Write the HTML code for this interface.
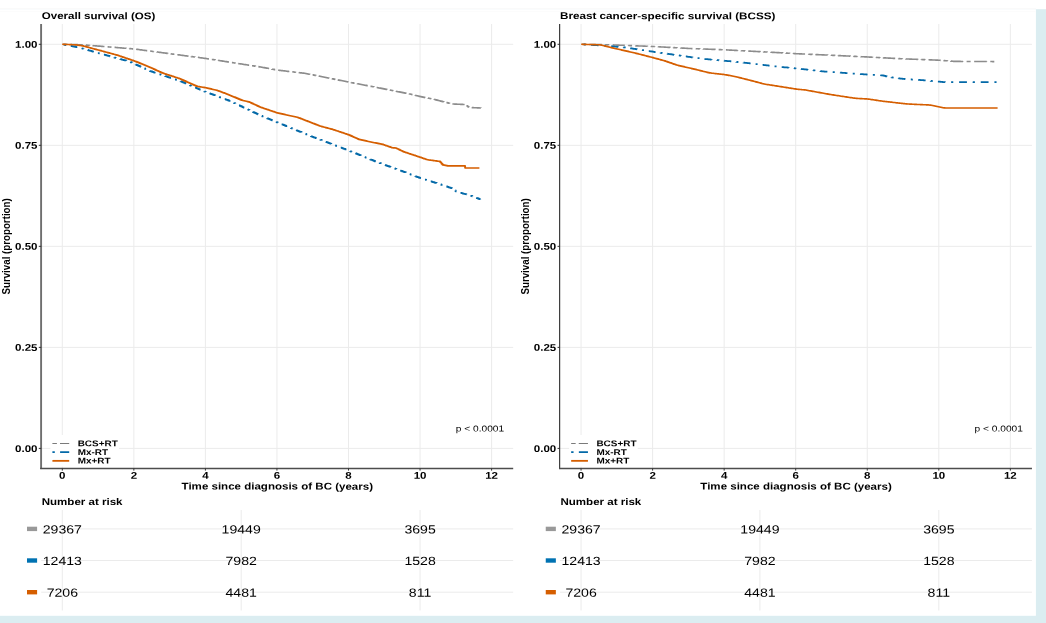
<!DOCTYPE html>
<html lang="en">
<head>
<meta charset="utf-8">
<title>Kaplan-Meier survival: OS and BCSS</title>
<style>
html,body{margin:0;padding:0;background:#fff;}
body{width:1046px;height:623px;overflow:hidden;}
svg{display:block;will-change:transform;}
text{font-family:"Liberation Sans",sans-serif;}
</style>
</head>
<body>
<svg width="1046" height="623" viewBox="0 0 1046 623" font-family="'Liberation Sans', sans-serif">
<rect width="1046" height="623" fill="#fff"/>
<rect x="0" y="9.2" width="1046" height="613.8" fill="#dbedf1"/>
<rect x="0" y="9.2" width="1035.9" height="606.6" fill="#fff"/>
<line x1="0" x2="1035.9" y1="8.5" y2="8.5" stroke="#fafafa" stroke-width="1"/>
<line x1="0" x2="1035.9" y1="11.6" y2="11.6" stroke="#fcfcfc" stroke-width="1"/>
<line x1="62.30" x2="62.30" y1="24.0" y2="468.4" stroke="#ebebeb" stroke-width="1"/>
<line x1="133.85" x2="133.85" y1="24.0" y2="468.4" stroke="#ebebeb" stroke-width="1"/>
<line x1="205.40" x2="205.40" y1="24.0" y2="468.4" stroke="#ebebeb" stroke-width="1"/>
<line x1="276.95" x2="276.95" y1="24.0" y2="468.4" stroke="#ebebeb" stroke-width="1"/>
<line x1="348.50" x2="348.50" y1="24.0" y2="468.4" stroke="#ebebeb" stroke-width="1"/>
<line x1="420.05" x2="420.05" y1="24.0" y2="468.4" stroke="#ebebeb" stroke-width="1"/>
<line x1="491.60" x2="491.60" y1="24.0" y2="468.4" stroke="#ebebeb" stroke-width="1"/>
<line x1="41.20" x2="513.20" y1="448.40" y2="448.40" stroke="#ebebeb" stroke-width="1"/>
<line x1="41.20" x2="513.20" y1="347.38" y2="347.38" stroke="#ebebeb" stroke-width="1"/>
<line x1="41.20" x2="513.20" y1="246.35" y2="246.35" stroke="#ebebeb" stroke-width="1"/>
<line x1="41.20" x2="513.20" y1="145.32" y2="145.32" stroke="#ebebeb" stroke-width="1"/>
<line x1="41.20" x2="513.20" y1="44.30" y2="44.30" stroke="#ebebeb" stroke-width="1"/>
<g transform="scale(1.185 1)" fill="none" stroke-linejoin="round">
<path d="M52.49 44.30H53.49V44.33H54.49V44.36H55.49V44.39H56.49V44.42H57.49V44.45H58.49V44.48H59.49V44.51H60.49V44.54H61.49V44.57H62.49V44.60H63.49V44.63H64.49V44.66H65.49V44.69H66.49V44.72H67.49V44.75H68.49V44.78H69.49V44.83H70.49V44.92H71.49V45.02H72.49V45.12H73.49V45.21H74.49V45.31H75.49V45.40H76.49V45.50H77.49V45.60H78.49V45.69H79.49V45.79H80.49V45.88H81.49V45.98H82.49V46.08H83.49V46.17H84.49V46.27H85.49V46.37H86.49V46.46H87.49V46.56H88.49V46.65H89.49V46.75H90.49V46.85H91.49V46.94H92.49V47.04H93.49V47.13H94.49V47.23H95.49V47.33H96.49V47.42H97.49V47.52H98.49V47.61H99.49V47.71H100.49V47.81H101.49V47.90H102.49V48.00H103.49V48.09H104.49V48.19H105.49V48.29H106.49V48.38H107.49V48.48H108.49V48.58H109.49V48.67H110.49V48.77H111.49V48.86H112.49V48.96H113.49V49.09H114.49V49.25H115.49V49.40H116.49V49.56H117.49V49.72H118.49V49.88H119.49V50.03H120.49V50.19H121.49V50.35H122.49V50.50H123.49V50.66H124.49V50.82H125.49V50.97H126.49V51.13H127.49V51.29H128.49V51.45H129.49V51.60H130.49V51.76H131.49V51.92H132.49V52.07H133.49V52.23H134.49V52.39H135.49V52.54H136.49V52.70H137.49V52.86H138.49V53.02H139.49V53.17H140.49V53.33H141.49V53.49H142.49V53.64H143.49V53.80H144.49V53.96H145.49V54.12H146.49V54.27H147.49V54.43H148.49V54.59H149.49V54.74H150.49V54.90H151.49V55.06H152.49V55.21H153.49V55.37H154.49V55.53H155.49V55.69H156.49V55.84H157.49V56.00H158.49V56.16H159.49V56.31H160.49V56.47H161.49V56.63H162.49V56.78H163.49V56.94H164.49V57.10H165.49V57.26H166.49V57.41H167.49V57.57H168.49V57.73H169.49V57.88H170.49V58.04H171.49V58.20H172.49V58.35H173.49V58.51H174.49V58.70H175.49V58.88H176.49V59.07H177.49V59.25H178.49V59.44H179.49V59.62H180.49V59.81H181.49V59.99H182.49V60.18H183.49V60.36H184.49V60.55H185.49V60.73H186.49V60.92H187.49V61.10H188.49V61.29H189.49V61.47H190.49V61.66H191.49V61.84H192.49V62.02H193.49V62.21H194.49V62.39H195.49V62.58H196.49V62.76H197.49V62.95H198.49V63.13H199.49V63.32H200.49V63.50H201.49V63.69H202.49V63.87H203.49V64.06H204.49V64.24H205.49V64.43H206.49V64.61H207.49V64.80H208.49V64.98H209.49V65.17H210.49V65.35H211.49V65.54H212.49V65.72H213.49V65.91H214.49V66.09H215.49V66.28H216.49V66.46H217.49V66.65H218.49V66.83H219.49V67.02H220.49V67.23H221.49V67.45H222.49V67.67H223.49V67.89H224.49V68.10H225.49V68.32H226.49V68.54H227.49V68.76H228.49V68.97H229.49V69.19H230.49V69.41H231.49V69.63H232.49V69.84H233.49V70.06H234.49V70.21H235.49V70.35H236.49V70.50H237.49V70.64H238.49V70.78H239.49V70.92H240.49V71.06H241.49V71.20H242.49V71.34H243.49V71.48H244.49V71.62H245.49V71.76H246.49V71.90H247.49V72.04H248.49V72.18H249.49V72.32H250.49V72.46H251.49V72.60H252.49V72.74H253.49V72.88H254.49V73.02H255.49V73.16H256.49V73.30H257.49V73.47H258.49V73.70H259.49V73.94H260.49V74.18H261.49V74.41H262.49V74.65H263.49V74.89H264.49V75.12H265.49V75.36H266.49V75.60H267.49V75.83H268.49V76.07H269.49V76.31H270.49V76.55H271.49V76.78H272.49V77.02H273.49V77.26H274.49V77.49H275.49V77.73H276.49V77.97H277.49V78.20H278.49V78.44H279.49V78.68H280.49V78.92H281.49V79.15H282.49V79.39H283.49V79.63H284.49V79.86H285.49V80.10H286.49V80.34H287.49V80.57H288.49V80.81H289.49V81.05H290.49V81.29H291.49V81.52H292.49V81.76H293.49V82.00H294.49V82.23H295.49V82.46H296.49V82.68H297.49V82.91H298.49V83.14H299.49V83.37H300.49V83.60H301.49V83.82H302.49V84.05H303.49V84.28H304.49V84.51H305.49V84.74H306.49V84.96H307.49V85.19H308.49V85.42H309.49V85.65H310.49V85.88H311.49V86.10H312.49V86.33H313.49V86.56H314.49V86.79H315.49V87.01H316.49V87.24H317.49V87.47H318.49V87.70H319.49V87.93H320.49V88.17H321.49V88.40H322.49V88.64H323.49V88.87H324.49V89.11H325.49V89.34H326.49V89.57H327.49V89.81H328.49V90.04H329.49V90.28H330.49V90.51H331.49V90.74H332.49V90.98H333.49V91.21H334.49V91.45H335.49V91.68H336.49V91.91H337.49V92.15H338.49V92.38H339.49V92.62H340.49V92.85H341.49V93.08H342.49V93.32H343.49V93.55H344.49V93.79H345.49V94.03H346.49V94.32H347.49V94.61H348.49V94.90H349.49V95.19H350.49V95.48H351.49V95.77H352.49V96.06H353.49V96.35H354.49V96.62H355.49V96.86H356.49V97.10H357.49V97.35H358.49V97.59H359.49V97.83H360.49V98.08H361.49V98.32H362.49V98.57H363.49V98.81H364.49V99.05H365.49V99.30H366.49V99.55H367.49V99.86H368.49V100.16H369.49V100.47H370.49V100.77H371.49V101.08H372.49V101.39H373.49V101.69H374.49V102.00H375.49V102.31H376.49V102.61H377.49V102.92H378.49V103.23H379.49V103.53H380.49V103.84H381.49V104.02H382.49V104.07H383.49V104.12H384.49V104.16H385.49V104.21H386.49V104.26H387.49V104.31H388.49V104.35H389.49V104.40H390.49V104.45H391.49V104.50H392.49V105.16H393.49V105.87H394.49V106.58H395.49V107.29H396.49V107.54H397.49V107.59H398.49V107.63H399.49V107.68H400.49V107.73H401.49V107.78H402.49V107.83H403.49V107.88H404.49V107.93H405.49V107.98H405.82V108.00" stroke="#8c8c8c" stroke-width="1.6" stroke-dasharray="3.4 3.0 10.7 3.0" stroke-dashoffset="19.4"/>
<path d="M52.49 44.30H53.49V44.54H54.49V44.78H55.49V45.02H56.49V45.25H57.49V45.49H58.49V45.73H59.49V45.97H60.49V46.21H61.49V46.45H62.49V46.68H63.49V46.92H64.49V47.16H65.49V47.40H66.49V47.64H67.49V47.91H68.49V48.25H69.49V48.59H70.49V48.93H71.49V49.27H72.49V49.60H73.49V49.94H74.49V50.28H75.49V50.62H76.49V50.96H77.49V51.30H78.49V51.64H79.49V51.98H80.49V52.32H81.49V52.66H82.49V53.00H83.49V53.34H84.49V53.67H85.49V54.00H86.49V54.32H87.49V54.64H88.49V54.97H89.49V55.29H90.49V55.62H91.49V55.94H92.49V56.27H93.49V56.59H94.49V56.92H95.49V57.24H96.49V57.57H97.49V57.89H98.49V58.22H99.49V58.54H100.49V58.87H101.49V59.19H102.49V59.52H103.49V59.84H104.49V60.17H105.49V60.49H106.49V60.82H107.49V61.14H108.49V61.47H109.49V61.86H110.49V62.41H111.49V62.96H112.49V63.50H113.49V64.05H114.49V64.60H115.49V65.15H116.49V65.69H117.49V66.24H118.49V66.79H119.49V67.34H120.49V67.89H121.49V68.43H122.49V68.98H123.49V69.53H124.49V70.08H125.49V70.62H126.49V71.10H127.49V71.49H128.49V71.88H129.49V72.28H130.49V72.67H131.49V73.06H132.49V73.46H133.49V73.85H134.49V74.25H135.49V74.64H136.49V75.03H137.49V75.43H138.49V75.82H139.49V76.21H140.49V76.61H141.49V77.00H142.49V77.39H143.49V77.79H144.49V78.18H145.49V78.58H146.49V78.97H147.49V79.36H148.49V79.76H149.49V80.15H150.49V80.54H151.49V80.98H152.49V81.48H153.49V81.98H154.49V82.48H155.49V82.99H156.49V83.49H157.49V83.99H158.49V84.50H159.49V85.00H160.49V85.50H161.49V86.00H162.49V86.51H163.49V87.01H164.49V87.51H165.49V88.01H166.49V88.52H167.49V89.02H168.49V89.52H169.49V90.03H170.49V90.53H171.49V91.03H172.49V91.53H173.49V92.03H174.49V92.47H175.49V92.91H176.49V93.35H177.49V93.79H178.49V94.23H179.49V94.68H180.49V95.12H181.49V95.56H182.49V96.00H183.49V96.44H184.49V96.88H185.49V97.32H186.49V97.76H187.49V98.20H188.49V98.64H189.49V99.08H190.49V99.52H191.49V99.96H192.49V100.40H193.49V100.88H194.49V101.44H195.49V102.00H196.49V102.56H197.49V103.12H198.49V103.68H199.49V104.24H200.49V104.80H201.49V105.36H202.49V105.92H203.49V106.48H204.49V107.04H205.49V107.60H206.49V108.16H207.49V108.72H208.49V109.28H209.49V109.84H210.49V110.40H211.49V110.96H212.49V111.52H213.49V112.08H214.49V112.64H215.49V113.20H216.49V113.76H217.49V114.32H218.49V114.88H219.49V115.44H220.49V115.93H221.49V116.42H222.49V116.91H223.49V117.40H224.49V117.89H225.49V118.38H226.49V118.88H227.49V119.37H228.49V119.86H229.49V120.35H230.49V120.84H231.49V121.33H232.49V121.82H233.49V122.31H234.49V122.80H235.49V123.28H236.49V123.76H237.49V124.25H238.49V124.73H239.49V125.21H240.49V125.70H241.49V126.18H242.49V126.66H243.49V127.15H244.49V127.63H245.49V128.11H246.49V128.60H247.49V129.08H248.49V129.56H249.49V130.05H250.49V130.53H251.49V131.01H252.49V131.50H253.49V131.98H254.49V132.46H255.49V132.95H256.49V133.43H257.49V133.91H258.49V134.40H259.49V134.88H260.49V135.36H261.49V135.85H262.49V136.33H263.49V136.81H264.49V137.26H265.49V137.71H266.49V138.16H267.49V138.61H268.49V139.06H269.49V139.51H270.49V139.96H271.49V140.41H272.49V140.86H273.49V141.31H274.49V141.76H275.49V142.21H276.49V142.66H277.49V143.11H278.49V143.56H279.49V144.01H280.49V144.46H281.49V144.91H282.49V145.36H283.49V145.81H284.49V146.26H285.49V146.71H286.49V147.16H287.49V147.61H288.49V148.06H289.49V148.51H290.49V148.96H291.49V149.41H292.49V149.85H293.49V150.30H294.49V150.77H295.49V151.26H296.49V151.74H297.49V152.23H298.49V152.71H299.49V153.20H300.49V153.68H301.49V154.17H302.49V154.65H303.49V155.14H304.49V155.62H305.49V156.11H306.49V156.59H307.49V157.08H308.49V157.56H309.49V158.05H310.49V158.53H311.49V159.02H312.49V159.50H313.49V159.98H314.49V160.47H315.49V160.95H316.49V161.44H317.49V161.92H318.49V162.38H319.49V162.81H320.49V163.24H321.49V163.67H322.49V164.10H323.49V164.53H324.49V164.95H325.49V165.38H326.49V165.81H327.49V166.24H328.49V166.67H329.49V167.09H330.49V167.52H331.49V167.95H332.49V168.38H333.49V168.81H334.49V169.23H335.49V169.66H336.49V170.09H337.49V170.52H338.49V170.95H339.49V171.38H340.49V171.80H341.49V172.24H342.49V172.69H343.49V173.14H344.49V173.60H345.49V174.05H346.49V174.50H347.49V174.95H348.49V175.40H349.49V175.86H350.49V176.31H351.49V176.76H352.49V177.21H353.49V177.67H354.49V178.08H355.49V178.46H356.49V178.83H357.49V179.20H358.49V179.58H359.49V179.95H360.49V180.33H361.49V180.70H362.49V181.08H363.49V181.45H364.49V181.83H365.49V182.20H366.49V182.58H367.49V182.95H368.49V183.33H369.49V183.70H370.49V184.08H371.49V184.48H372.49V184.88H373.49V185.28H374.49V185.68H375.49V186.08H376.49V186.48H377.49V186.89H378.49V187.29H379.49V187.69H380.49V188.09H381.49V188.72H382.49V189.60H383.49V190.47H384.49V191.35H385.49V192.07H386.49V192.36H387.49V192.65H388.49V192.93H389.49V193.22H390.49V193.51H391.49V193.79H392.49V194.08H393.49V194.37H394.49V194.65H395.49V194.94H396.49V195.38H397.49V195.85H398.49V196.33H399.49V196.81H400.49V197.28H401.49V197.76H402.49V198.23H403.49V198.71H404.49V199.19H405.15V199.50" stroke="#0369A8" stroke-width="1.75" stroke-dasharray="1.8 4.95 6.6 4.95" stroke-dashoffset="16.1"/>
<path d="M52.49 44.30H53.49V44.35H54.49V44.40H55.49V44.44H56.49V44.49H57.49V44.54H58.49V44.59H59.49V44.63H60.49V44.68H61.49V44.73H62.49V44.78H63.49V44.89H64.49V45.05H65.49V45.21H66.49V45.37H67.49V45.53H68.49V45.69H69.49V45.89H70.49V46.21H71.49V46.53H72.49V46.85H73.49V47.17H74.49V47.48H75.49V47.80H76.49V48.12H77.49V48.44H78.49V48.76H79.49V49.08H80.49V49.39H81.49V49.71H82.49V50.03H83.49V50.35H84.49V50.67H85.49V50.99H86.49V51.31H87.49V51.63H88.49V51.95H89.49V52.27H90.49V52.59H91.49V52.91H92.49V53.23H93.49V53.55H94.49V53.87H95.49V54.19H96.49V54.51H97.49V54.83H98.49V55.15H99.49V55.54H100.49V55.94H101.49V56.33H102.49V56.73H103.49V57.13H104.49V57.53H105.49V57.93H106.49V58.33H107.49V58.73H108.49V59.13H109.49V59.53H110.49V59.93H111.49V60.33H112.49V60.73H113.49V61.18H114.49V61.66H115.49V62.14H116.49V62.62H117.49V63.10H118.49V63.59H119.49V64.07H120.49V64.55H121.49V65.03H122.49V65.51H123.49V65.99H124.49V66.48H125.49V66.96H126.49V67.47H127.49V68.02H128.49V68.56H129.49V69.11H130.49V69.65H131.49V70.19H132.49V70.74H133.49V71.28H134.49V71.83H135.49V72.37H136.49V72.91H137.49V73.30H138.49V73.69H139.49V74.08H140.49V74.47H141.49V74.85H142.49V75.24H143.49V75.63H144.49V76.02H145.49V76.41H146.49V76.80H147.49V77.18H148.49V77.57H149.49V77.96H150.49V78.35H151.49V78.78H152.49V79.31H153.49V79.83H154.49V80.36H155.49V80.88H156.49V81.41H157.49V81.93H158.49V82.45H159.49V82.98H160.49V83.50H161.49V84.03H162.49V84.55H163.49V85.08H164.49V85.60H165.49V86.13H166.49V86.43H167.49V86.63H168.49V86.83H169.49V87.02H170.49V87.22H171.49V87.42H172.49V87.62H173.49V87.82H174.49V88.09H175.49V88.36H176.49V88.63H177.49V88.91H178.49V89.18H179.49V89.45H180.49V89.72H181.49V89.99H182.49V90.27H183.49V90.68H184.49V91.12H185.49V91.56H186.49V92.00H187.49V92.44H188.49V92.88H189.49V93.31H190.49V93.75H191.49V94.21H192.49V94.71H193.49V95.20H194.49V95.69H195.49V96.19H196.49V96.68H197.49V97.17H198.49V97.67H199.49V98.16H200.49V98.65H201.49V99.15H202.49V99.64H203.49V100.13H204.49V100.44H205.49V100.73H206.49V101.01H207.49V101.30H208.49V101.58H209.49V101.87H210.49V102.29H211.49V102.84H212.49V103.39H213.49V103.94H214.49V104.49H215.49V105.04H216.49V105.59H217.49V106.14H218.49V106.69H219.49V107.23H220.49V107.63H221.49V108.03H222.49V108.43H223.49V108.83H224.49V109.23H225.49V109.63H226.49V110.03H227.49V110.43H228.49V110.83H229.49V111.23H230.49V111.63H231.49V112.03H232.49V112.43H233.49V112.83H234.49V113.11H235.49V113.38H236.49V113.64H237.49V113.90H238.49V114.16H239.49V114.42H240.49V114.68H241.49V114.94H242.49V115.21H243.49V115.47H244.49V115.73H245.49V115.99H246.49V116.25H247.49V116.51H248.49V116.77H249.49V117.03H250.49V117.30H251.49V117.68H252.49V118.14H253.49V118.60H254.49V119.06H255.49V119.52H256.49V119.98H257.49V120.44H258.49V120.90H259.49V121.36H260.49V121.82H261.49V122.28H262.49V122.74H263.49V123.20H264.49V123.66H265.49V124.12H266.49V124.58H267.49V125.04H268.49V125.50H269.49V125.96H270.49V126.32H271.49V126.64H272.49V126.95H273.49V127.27H274.49V127.58H275.49V127.90H276.49V128.21H277.49V128.53H278.49V128.84H279.49V129.16H280.49V129.49H281.49V129.89H282.49V130.28H283.49V130.68H284.49V131.07H285.49V131.47H286.49V131.86H287.49V132.26H288.49V132.65H289.49V133.05H290.49V133.44H291.49V133.84H292.49V134.23H293.49V134.63H294.49V135.10H295.49V135.63H296.49V136.17H297.49V136.70H298.49V137.23H299.49V137.77H300.49V138.30H301.49V138.83H302.49V139.33H303.49V139.60H304.49V139.86H305.49V140.13H306.49V140.39H307.49V140.66H308.49V140.92H309.49V141.19H310.49V141.45H311.49V141.71H312.49V141.96H313.49V142.20H314.49V142.44H315.49V142.68H316.49V142.92H317.49V143.16H318.49V143.39H319.49V143.63H320.49V143.87H321.49V144.11H322.49V144.39H323.49V144.81H324.49V145.23H325.49V145.65H326.49V146.06H327.49V146.48H328.49V146.90H329.49V147.32H330.49V147.74H331.49V147.85H332.49V147.92H333.49V147.98H334.49V148.43H335.49V149.01H336.49V149.60H337.49V150.18H338.49V150.77H339.49V151.35H340.49V151.86H341.49V152.25H342.49V152.65H343.49V153.04H344.49V153.44H345.49V153.84H346.49V154.23H347.49V154.62H348.49V155.02H349.49V155.41H350.49V155.81H351.49V156.21H352.49V156.60H353.49V157.00H354.49V157.40H355.49V157.81H356.49V158.22H357.49V158.63H358.49V159.04H359.49V159.46H360.49V159.77H361.49V159.93H362.49V160.09H363.49V160.26H364.49V160.42H365.49V160.59H366.49V160.75H367.49V160.91H368.49V161.08H369.49V161.24H370.49V161.41H371.49V162.21H372.49V163.84H373.49V164.90H374.49V165.15H375.49V165.39H376.49V165.64H377.49V165.88H378.49V165.90H379.49H380.49H381.49H382.49H383.49H384.49H385.49H386.49H387.49H388.49H389.49H390.49H391.49H392.49V168.00H393.49H394.49H395.49H396.49H397.49H398.49H399.49H400.49H401.49H402.49H403.49H404.49H404.56" stroke="#D55E00" stroke-width="1.6"/>
</g>
<rect x="50.40" y="435" width="68.6" height="31.6" fill="#fff"/>
<line x1="52.40" x2="69.20" y1="443.45" y2="443.45" stroke="#7a7a7a" stroke-width="1.15" stroke-dasharray="4.5 3.1 9.2 9"/>
<line x1="52.40" x2="69.20" y1="452.15" y2="452.15" stroke="#0369A8" stroke-width="1.9" stroke-dasharray="2.4 5.3 9.1 9"/>
<line x1="52.40" x2="69.20" y1="460.85" y2="460.85" stroke="#D55E00" stroke-width="1.8"/>
<text transform="translate(77.70 446.30) rotate(0.03) scale(1.185 1)" font-size="8.4" font-weight="bold" text-anchor="start" fill="#000">BCS+RT</text>
<text transform="translate(77.70 454.90) rotate(0.03) scale(1.185 1)" font-size="8.4" font-weight="bold" text-anchor="start" fill="#000">Mx-RT</text>
<text transform="translate(77.70 463.50) rotate(0.03) scale(1.185 1)" font-size="8.4" font-weight="bold" text-anchor="start" fill="#000">Mx+RT</text>
<rect x="40.15" y="24.0" width="1.9" height="445.05" fill="#6f6f6f"/>
<line x1="40.15" x2="513.20" y1="468.5" y2="468.5" stroke="#4d4d4d" stroke-width="1.3"/>
<line x1="38.80" x2="41.20" y1="448.40" y2="448.40" stroke="#333" stroke-width="1"/>
<text transform="translate(37.50 451.90) rotate(0.03) scale(1.185 1)" font-size="9.75" font-weight="bold" text-anchor="end" fill="#000">0.00</text>
<line x1="38.80" x2="41.20" y1="347.38" y2="347.38" stroke="#333" stroke-width="1"/>
<text transform="translate(37.50 350.88) rotate(0.03) scale(1.185 1)" font-size="9.75" font-weight="bold" text-anchor="end" fill="#000">0.25</text>
<line x1="38.80" x2="41.20" y1="246.35" y2="246.35" stroke="#333" stroke-width="1"/>
<text transform="translate(37.50 249.85) rotate(0.03) scale(1.185 1)" font-size="9.75" font-weight="bold" text-anchor="end" fill="#000">0.50</text>
<line x1="38.80" x2="41.20" y1="145.32" y2="145.32" stroke="#333" stroke-width="1"/>
<text transform="translate(37.50 148.82) rotate(0.03) scale(1.185 1)" font-size="9.75" font-weight="bold" text-anchor="end" fill="#000">0.75</text>
<line x1="38.80" x2="41.20" y1="44.30" y2="44.30" stroke="#333" stroke-width="1"/>
<text transform="translate(37.50 47.80) rotate(0.03) scale(1.185 1)" font-size="9.75" font-weight="bold" text-anchor="end" fill="#000">1.00</text>
<line x1="62.30" x2="62.30" y1="468.4" y2="470.59999999999997" stroke="#333" stroke-width="1"/>
<text transform="translate(62.30 478.80) rotate(0.03) scale(1.185 1)" font-size="9.75" font-weight="bold" text-anchor="middle" fill="#000">0</text>
<line x1="133.85" x2="133.85" y1="468.4" y2="470.59999999999997" stroke="#333" stroke-width="1"/>
<text transform="translate(133.85 478.80) rotate(0.03) scale(1.185 1)" font-size="9.75" font-weight="bold" text-anchor="middle" fill="#000">2</text>
<line x1="205.40" x2="205.40" y1="468.4" y2="470.59999999999997" stroke="#333" stroke-width="1"/>
<text transform="translate(205.40 478.80) rotate(0.03) scale(1.185 1)" font-size="9.75" font-weight="bold" text-anchor="middle" fill="#000">4</text>
<line x1="276.95" x2="276.95" y1="468.4" y2="470.59999999999997" stroke="#333" stroke-width="1"/>
<text transform="translate(276.95 478.80) rotate(0.03) scale(1.185 1)" font-size="9.75" font-weight="bold" text-anchor="middle" fill="#000">6</text>
<line x1="348.50" x2="348.50" y1="468.4" y2="470.59999999999997" stroke="#333" stroke-width="1"/>
<text transform="translate(348.50 478.80) rotate(0.03) scale(1.185 1)" font-size="9.75" font-weight="bold" text-anchor="middle" fill="#000">8</text>
<line x1="420.05" x2="420.05" y1="468.4" y2="470.59999999999997" stroke="#333" stroke-width="1"/>
<text transform="translate(420.05 478.80) rotate(0.03) scale(1.185 1)" font-size="9.75" font-weight="bold" text-anchor="middle" fill="#000">10</text>
<line x1="491.60" x2="491.60" y1="468.4" y2="470.59999999999997" stroke="#333" stroke-width="1"/>
<text transform="translate(491.60 478.80) rotate(0.03) scale(1.185 1)" font-size="9.75" font-weight="bold" text-anchor="middle" fill="#000">12</text>
<text transform="translate(41.80 19.10) rotate(0.03) scale(1.185 1)" font-size="9.75" font-weight="bold" text-anchor="start" fill="#000">Overall survival (OS)</text>
<text transform="translate(277.30 489.60) rotate(0.03) scale(1.185 1)" font-size="9.75" font-weight="bold" text-anchor="middle" fill="#000">Time since diagnosis of BC (years)</text>
<text transform="translate(10.20 246.40) scale(1.185 1) rotate(-90)" font-size="9.75" font-weight="bold" text-anchor="middle" fill="#000">Survival (proportion)</text>
<text transform="translate(455.80 431.60) rotate(0.03) scale(1.185 1)" font-size="8.6" font-weight="normal" text-anchor="start" fill="#000">p &lt; 0.0001</text>
<text transform="translate(41.70 505.00) rotate(0.03) scale(1.185 1)" font-size="9.75" font-weight="bold" text-anchor="start" fill="#000">Number at risk</text>
<line x1="62.30" x2="62.30" y1="510" y2="610.5" stroke="#ebebeb" stroke-width="1"/>
<line x1="241.18" x2="241.18" y1="510" y2="610.5" stroke="#ebebeb" stroke-width="1"/>
<line x1="420.05" x2="420.05" y1="510" y2="610.5" stroke="#ebebeb" stroke-width="1"/>
<line x1="41.20" x2="513.20" y1="528.9" y2="528.9" stroke="#ebebeb" stroke-width="1"/>
<rect x="27.00" y="526.70" width="10.1" height="4.4" fill="#999999"/>
<text transform="translate(62.30 533.50) rotate(0.03) scale(1.185 1)" font-size="11.9" font-weight="normal" text-anchor="middle" fill="#000">29367</text>
<text transform="translate(241.18 533.50) rotate(0.03) scale(1.185 1)" font-size="11.9" font-weight="normal" text-anchor="middle" fill="#000">19449</text>
<text transform="translate(420.05 533.50) rotate(0.03) scale(1.185 1)" font-size="11.9" font-weight="normal" text-anchor="middle" fill="#000">3695</text>
<line x1="41.20" x2="513.20" y1="560.5" y2="560.5" stroke="#ebebeb" stroke-width="1"/>
<rect x="27.00" y="558.30" width="10.1" height="4.4" fill="#0072B2"/>
<text transform="translate(62.30 565.10) rotate(0.03) scale(1.185 1)" font-size="11.9" font-weight="normal" text-anchor="middle" fill="#000">12413</text>
<text transform="translate(241.18 565.10) rotate(0.03) scale(1.185 1)" font-size="11.9" font-weight="normal" text-anchor="middle" fill="#000">7982</text>
<text transform="translate(420.05 565.10) rotate(0.03) scale(1.185 1)" font-size="11.9" font-weight="normal" text-anchor="middle" fill="#000">1528</text>
<line x1="41.20" x2="513.20" y1="592.2" y2="592.2" stroke="#ebebeb" stroke-width="1"/>
<rect x="27.00" y="590.00" width="10.1" height="4.4" fill="#D55E00"/>
<text transform="translate(62.30 596.80) rotate(0.03) scale(1.185 1)" font-size="11.9" font-weight="normal" text-anchor="middle" fill="#000">7206</text>
<text transform="translate(241.18 596.80) rotate(0.03) scale(1.185 1)" font-size="11.9" font-weight="normal" text-anchor="middle" fill="#000">4481</text>
<text transform="translate(420.05 596.80) rotate(0.03) scale(1.185 1)" font-size="11.9" font-weight="normal" text-anchor="middle" fill="#000">811</text>
<line x1="581.05" x2="581.05" y1="24.0" y2="468.4" stroke="#ebebeb" stroke-width="1"/>
<line x1="652.60" x2="652.60" y1="24.0" y2="468.4" stroke="#ebebeb" stroke-width="1"/>
<line x1="724.15" x2="724.15" y1="24.0" y2="468.4" stroke="#ebebeb" stroke-width="1"/>
<line x1="795.70" x2="795.70" y1="24.0" y2="468.4" stroke="#ebebeb" stroke-width="1"/>
<line x1="867.25" x2="867.25" y1="24.0" y2="468.4" stroke="#ebebeb" stroke-width="1"/>
<line x1="938.80" x2="938.80" y1="24.0" y2="468.4" stroke="#ebebeb" stroke-width="1"/>
<line x1="1010.35" x2="1010.35" y1="24.0" y2="468.4" stroke="#ebebeb" stroke-width="1"/>
<line x1="559.95" x2="1031.95" y1="448.40" y2="448.40" stroke="#ebebeb" stroke-width="1"/>
<line x1="559.95" x2="1031.95" y1="347.38" y2="347.38" stroke="#ebebeb" stroke-width="1"/>
<line x1="559.95" x2="1031.95" y1="246.35" y2="246.35" stroke="#ebebeb" stroke-width="1"/>
<line x1="559.95" x2="1031.95" y1="145.32" y2="145.32" stroke="#ebebeb" stroke-width="1"/>
<line x1="559.95" x2="1031.95" y1="44.30" y2="44.30" stroke="#ebebeb" stroke-width="1"/>
<g transform="scale(1.185 1)" fill="none" stroke-linejoin="round">
<path d="M490.46 44.30H491.46V44.32H492.46V44.34H493.46V44.36H494.46V44.38H495.46V44.40H496.46V44.43H497.46V44.45H498.46V44.47H499.46V44.49H500.46V44.51H501.46V44.53H502.46V44.55H503.46V44.57H504.46V44.59H505.46V44.61H506.46V44.63H507.46V44.66H508.46V44.68H509.46V44.70H510.46V44.72H511.46V44.74H512.46V44.76H513.46V44.78H514.46V44.81H515.46V44.85H516.46V44.90H517.46V44.95H518.46V44.99H519.46V45.04H520.46V45.09H521.46V45.13H522.46V45.18H523.46V45.23H524.46V45.27H525.46V45.32H526.46V45.37H527.46V45.41H528.46V45.46H529.46V45.51H530.46V45.55H531.46V45.60H532.46V45.65H533.46V45.69H534.46V45.74H535.46V45.79H536.46V45.83H537.46V45.88H538.46V45.93H539.46V45.97H540.46V46.02H541.46V46.07H542.46V46.11H543.46V46.16H544.46V46.21H545.46V46.25H546.46V46.30H547.46V46.35H548.46V46.39H549.46V46.44H550.46V46.49H551.46V46.55H552.46V46.61H553.46V46.68H554.46V46.74H555.46V46.81H556.46V46.87H557.46V46.94H558.46V47.00H559.46V47.07H560.46V47.13H561.46V47.20H562.46V47.26H563.46V47.33H564.46V47.39H565.46V47.46H566.46V47.52H567.46V47.59H568.46V47.65H569.46V47.72H570.46V47.78H571.46V47.85H572.46V47.91H573.46V47.98H574.46V48.04H575.46V48.11H576.46V48.17H577.46V48.24H578.46V48.30H579.46V48.37H580.46V48.43H581.46V48.50H582.46V48.54H583.46V48.59H584.46V48.63H585.46V48.67H586.46V48.72H587.46V48.76H588.46V48.81H589.46V48.85H590.46V48.89H591.46V48.94H592.46V48.98H593.46V49.03H594.46V49.07H595.46V49.12H596.46V49.16H597.46V49.20H598.46V49.25H599.46V49.29H600.46V49.34H601.46V49.38H602.46V49.42H603.46V49.47H604.46V49.51H605.46V49.56H606.46V49.60H607.46V49.65H608.46V49.69H609.46V49.73H610.46V49.78H611.46V49.83H612.46V49.89H613.46V49.96H614.46V50.02H615.46V50.08H616.46V50.14H617.46V50.21H618.46V50.27H619.46V50.33H620.46V50.40H621.46V50.46H622.46V50.52H623.46V50.58H624.46V50.65H625.46V50.71H626.46V50.77H627.46V50.83H628.46V50.90H629.46V50.96H630.46V51.02H631.46V51.09H632.46V51.15H633.46V51.21H634.46V51.27H635.46V51.34H636.46V51.40H637.46V51.46H638.46V51.52H639.46V51.59H640.46V51.65H641.46V51.71H642.46V51.78H643.46V51.84H644.46V51.90H645.46V51.96H646.46V52.03H647.46V52.09H648.46V52.15H649.46V52.21H650.46V52.28H651.46V52.34H652.46V52.40H653.46V52.47H654.46V52.53H655.46V52.60H656.46V52.67H657.46V52.74H658.46V52.81H659.46V52.88H660.46V52.95H661.46V53.01H662.46V53.08H663.46V53.15H664.46V53.22H665.46V53.29H666.46V53.36H667.46V53.43H668.46V53.50H669.46V53.57H670.46V53.64H671.46V53.70H672.46V53.76H673.46V53.81H674.46V53.86H675.46V53.91H676.46V53.96H677.46V54.02H678.46V54.07H679.46V54.12H680.46V54.17H681.46V54.23H682.46V54.28H683.46V54.33H684.46V54.38H685.46V54.43H686.46V54.49H687.46V54.54H688.46V54.59H689.46V54.64H690.46V54.69H691.46V54.75H692.46V54.80H693.46V54.85H694.46V54.90H695.46V54.95H696.46V55.01H697.46V55.06H698.46V55.11H699.46V55.16H700.46V55.22H701.46V55.27H702.46V55.33H703.46V55.39H704.46V55.44H705.46V55.50H706.46V55.56H707.46V55.61H708.46V55.67H709.46V55.73H710.46V55.78H711.46V55.84H712.46V55.90H713.46V55.95H714.46V56.01H715.46V56.07H716.46V56.12H717.46V56.18H718.46V56.24H719.46V56.29H720.46V56.35H721.46V56.41H722.46V56.46H723.46V56.52H724.46V56.58H725.46V56.63H726.46V56.69H727.46V56.75H728.46V56.81H729.46V56.86H730.46V56.92H731.46V56.98H732.46V57.04H733.46V57.10H734.46V57.16H735.46V57.22H736.46V57.29H737.46V57.35H738.46V57.41H739.46V57.47H740.46V57.54H741.46V57.60H742.46V57.66H743.46V57.73H744.46V57.79H745.46V57.85H746.46V57.91H747.46V57.98H748.46V58.04H749.46V58.10H750.46V58.17H751.46V58.23H752.46V58.29H753.46V58.35H754.46V58.42H755.46V58.48H756.46V58.54H757.46V58.60H758.46V58.67H759.46V58.72H760.46V58.77H761.46V58.81H762.46V58.86H763.46V58.90H764.46V58.95H765.46V59.00H766.46V59.04H767.46V59.09H768.46V59.13H769.46V59.18H770.46V59.22H771.46V59.27H772.46V59.31H773.46V59.36H774.46V59.41H775.46V59.45H776.46V59.50H777.46V59.54H778.46V59.59H779.46V59.63H780.46V59.68H781.46V59.72H782.46V59.77H783.46V59.82H784.46V59.86H785.46V59.91H786.46V59.95H787.46V60.00H788.46V60.04H789.46V60.09H790.46V60.13H791.46V60.18H792.46V60.25H793.46V60.34H794.46V60.43H795.46V60.52H796.46V60.61H797.46V60.70H798.46V60.79H799.46V60.89H800.46V60.98H801.46V61.07H802.46V61.16H803.46V61.25H804.46V61.34H805.46V61.40H806.46V61.41H807.46V61.41H808.46V61.42H809.46V61.42H810.46V61.43H811.46V61.43H812.46V61.44H813.46V61.45H814.46V61.45H815.46V61.46H816.46V61.46H817.46V61.47H818.46V61.47H819.46V61.48H820.46V61.48H821.46V61.49H822.46V61.49H823.46V61.50H824.46V61.51H825.46V61.51H826.46V61.52H827.46V61.52H828.46V61.53H829.46V61.53H830.46V61.54H831.46V61.54H832.46V61.55H833.46V61.55H834.46V61.56H835.46V61.57H836.46V61.57H837.46V61.58H838.46V61.58H839.46V61.59H840.46V61.59H841.46V61.60H841.86V61.60" stroke="#8c8c8c" stroke-width="1.6" stroke-dasharray="3.4 3.0 10.7 3.0" stroke-dashoffset="19.4"/>
<path d="M490.46 44.30H491.46V44.37H492.46V44.44H493.46V44.51H494.46V44.58H495.46V44.66H496.46V44.73H497.46V44.80H498.46V44.87H499.46V44.94H500.46V45.01H501.46V45.08H502.46V45.15H503.46V45.23H504.46V45.30H505.46V45.37H506.46V45.44H507.46V45.51H508.46V45.58H509.46V45.65H510.46V45.72H511.46V45.79H512.46V45.87H513.46V45.94H514.46V46.01H515.46V46.14H516.46V46.26H517.46V46.38H518.46V46.50H519.46V46.63H520.46V46.75H521.46V46.87H522.46V47.00H523.46V47.12H524.46V47.24H525.46V47.36H526.46V47.49H527.46V47.61H528.46V47.73H529.46V47.88H530.46V48.06H531.46V48.24H532.46V48.42H533.46V48.60H534.46V48.78H535.46V48.96H536.46V49.14H537.46V49.32H538.46V49.50H539.46V49.68H540.46V49.86H541.46V50.04H542.46V50.22H543.46V50.40H544.46V50.58H545.46V50.76H546.46V50.94H547.46V51.12H548.46V51.29H549.46V51.47H550.46V51.65H551.46V51.83H552.46V52.00H553.46V52.17H554.46V52.34H555.46V52.52H556.46V52.69H557.46V52.86H558.46V53.03H559.46V53.21H560.46V53.38H561.46V53.55H562.46V53.72H563.46V53.89H564.46V54.07H565.46V54.24H566.46V54.41H567.46V54.58H568.46V54.75H569.46V54.93H570.46V55.10H571.46V55.27H572.46V55.43H573.46V55.60H574.46V55.76H575.46V55.93H576.46V56.09H577.46V56.26H578.46V56.42H579.46V56.59H580.46V56.75H581.46V56.92H582.46V57.08H583.46V57.25H584.46V57.41H585.46V57.58H586.46V57.74H587.46V57.91H588.46V58.07H589.46V58.24H590.46V58.40H591.46V58.57H592.46V58.73H593.46V58.90H594.46V59.04H595.46V59.14H596.46V59.24H597.46V59.34H598.46V59.44H599.46V59.54H600.46V59.64H601.46V59.74H602.46V59.84H603.46V59.94H604.46V60.04H605.46V60.15H606.46V60.25H607.46V60.35H608.46V60.45H609.46V60.55H610.46V60.65H611.46V60.76H612.46V60.88H613.46V61.00H614.46V61.12H615.46V61.24H616.46V61.36H617.46V61.48H618.46V61.60H619.46V61.71H620.46V61.83H621.46V61.95H622.46V62.07H623.46V62.19H624.46V62.31H625.46V62.43H626.46V62.55H627.46V62.67H628.46V62.79H629.46V62.91H630.46V63.03H631.46V63.15H632.46V63.28H633.46V63.43H634.46V63.57H635.46V63.72H636.46V63.86H637.46V64.01H638.46V64.15H639.46V64.29H640.46V64.44H641.46V64.58H642.46V64.73H643.46V64.87H644.46V65.02H645.46V65.16H646.46V65.31H647.46V65.45H648.46V65.60H649.46V65.74H650.46V65.89H651.46V66.03H652.46V66.18H653.46V66.32H654.46V66.45H655.46V66.57H656.46V66.68H657.46V66.80H658.46V66.91H659.46V67.03H660.46V67.14H661.46V67.26H662.46V67.37H663.46V67.49H664.46V67.60H665.46V67.72H666.46V67.83H667.46V67.95H668.46V68.06H669.46V68.18H670.46V68.29H671.46V68.41H672.46V68.54H673.46V68.67H674.46V68.80H675.46V68.93H676.46V69.06H677.46V69.19H678.46V69.32H679.46V69.45H680.46V69.58H681.46V69.71H682.46V69.84H683.46V69.97H684.46V70.10H685.46V70.23H686.46V70.36H687.46V70.49H688.46V70.62H689.46V70.75H690.46V70.88H691.46V71.01H692.46V71.14H693.46V71.27H694.46V71.40H695.46V71.53H696.46V71.64H697.46V71.72H698.46V71.80H699.46V71.89H700.46V71.97H701.46V72.05H702.46V72.14H703.46V72.22H704.46V72.31H705.46V72.39H706.46V72.47H707.46V72.56H708.46V72.64H709.46V72.72H710.46V72.81H711.46V72.89H712.46V72.97H713.46V73.06H714.46V73.14H715.46V73.23H716.46V73.31H717.46V73.39H718.46V73.48H719.46V73.56H720.46V73.64H721.46V73.73H722.46V73.81H723.46V73.89H724.46V73.98H725.46V74.06H726.46V74.15H727.46V74.23H728.46V74.31H729.46V74.40H730.46V74.48H731.46V74.56H732.46V74.64H733.46V74.70H734.46V74.77H735.46V74.83H736.46V74.89H737.46V74.96H738.46V75.02H739.46V75.09H740.46V75.15H741.46V75.22H742.46V75.28H743.46V75.35H744.46V75.44H745.46V75.72H746.46V75.99H747.46V76.26H748.46V76.53H749.46V76.80H750.46V77.08H751.46V77.24H752.46V77.40H753.46V77.56H754.46V77.72H755.46V77.88H756.46V78.03H757.46V78.19H758.46V78.35H759.46V78.51H760.46V78.67H761.46V78.82H762.46V78.98H763.46V79.12H764.46V79.19H765.46V79.26H766.46V79.33H767.46V79.40H768.46V79.48H769.46V79.55H770.46V79.62H771.46V79.69H772.46V79.76H773.46V79.83H774.46V79.90H775.46V79.98H776.46V80.05H777.46V80.12H778.46V80.19H779.46V80.26H780.46V80.35H781.46V80.47H782.46V80.59H783.46V80.70H784.46V80.82H785.46V80.93H786.46V81.05H787.46V81.16H788.46V81.28H789.46V81.40H790.46V81.51H791.46V81.63H792.46V81.74H793.46V81.86H794.46V81.97H795.46V82.00H796.46V82.00H797.46V82.01H798.46V82.01H799.46V82.01H800.46V82.01H801.46V82.01H802.46V82.02H803.46V82.02H804.46V82.02H805.46V82.02H806.46V82.02H807.46V82.03H808.46V82.03H809.46V82.03H810.46V82.03H811.46V82.03H812.46V82.04H813.46V82.04H814.46V82.04H815.46V82.04H816.46V82.05H817.46V82.05H818.46V82.05H819.46V82.05H820.46V82.05H821.46V82.06H822.46V82.06H823.46V82.06H824.46V82.06H825.46V82.06H826.46V82.07H827.46V82.07H828.46V82.07H829.46V82.07H830.46V82.07H831.46V82.08H832.46V82.08H833.46V82.08H834.46V82.08H835.46V82.08H836.46V82.09H837.46V82.09H838.46V82.09H839.46V82.09H840.46V82.09H841.46V82.10H842.46V82.10H842.95V82.10" stroke="#0369A8" stroke-width="1.75" stroke-dasharray="1.8 4.95 6.6 4.95" stroke-dashoffset="16.1"/>
<path d="M490.46 44.30H491.46V44.33H492.46V44.36H493.46V44.40H494.46V44.43H495.46V44.46H496.46V44.49H497.46V44.53H498.46V44.56H499.46V44.59H500.46V44.62H501.46V44.65H502.46V44.69H503.46V44.72H504.46V44.75H505.46V44.78H506.46V44.94H507.46V45.23H508.46V45.53H509.46V45.82H510.46V46.12H511.46V46.41H512.46V46.70H513.46V47.00H514.46V47.29H515.46V47.59H516.46V47.88H517.46V48.18H518.46V48.47H519.46V48.74H520.46V49.01H521.46V49.28H522.46V49.54H523.46V49.81H524.46V50.08H525.46V50.35H526.46V50.62H527.46V50.88H528.46V51.15H529.46V51.42H530.46V51.69H531.46V51.96H532.46V52.22H533.46V52.49H534.46V52.76H535.46V53.03H536.46V53.34H537.46V53.64H538.46V53.95H539.46V54.26H540.46V54.56H541.46V54.87H542.46V55.17H543.46V55.48H544.46V55.79H545.46V56.09H546.46V56.40H547.46V56.70H548.46V57.01H549.46V57.32H550.46V57.62H551.46V57.94H552.46V58.27H553.46V58.59H554.46V58.91H555.46V59.24H556.46V59.56H557.46V59.89H558.46V60.21H559.46V60.53H560.46V60.86H561.46V61.26H562.46V61.67H563.46V62.08H564.46V62.49H565.46V62.90H566.46V63.31H567.46V63.72H568.46V64.14H569.46V64.55H570.46V64.96H571.46V65.31H572.46V65.58H573.46V65.86H574.46V66.13H575.46V66.40H576.46V66.67H577.46V66.95H578.46V67.22H579.46V67.49H580.46V67.76H581.46V68.04H582.46V68.31H583.46V68.58H584.46V68.85H585.46V69.13H586.46V69.41H587.46V69.71H588.46V70.00H589.46V70.30H590.46V70.59H591.46V70.88H592.46V71.18H593.46V71.47H594.46V71.77H595.46V72.06H596.46V72.36H597.46V72.65H598.46V72.92H599.46V73.05H600.46V73.19H601.46V73.32H602.46V73.46H603.46V73.59H604.46V73.73H605.46V73.86H606.46V73.99H607.46V74.13H608.46V74.26H609.46V74.40H610.46V74.53H611.46V74.71H612.46V74.92H613.46V75.14H614.46V75.35H615.46V75.57H616.46V75.78H617.46V76.00H618.46V76.21H619.46V76.44H620.46V76.74H621.46V77.03H622.46V77.32H623.46V77.62H624.46V77.91H625.46V78.21H626.46V78.50H627.46V78.80H628.46V79.09H629.46V79.38H630.46V79.68H631.46V79.97H632.46V80.28H633.46V80.59H634.46V80.91H635.46V81.23H636.46V81.54H637.46V81.86H638.46V82.17H639.46V82.49H640.46V82.81H641.46V83.12H642.46V83.44H643.46V83.75H644.46V84.07H645.46V84.26H646.46V84.44H647.46V84.62H648.46V84.80H649.46V84.98H650.46V85.16H651.46V85.34H652.46V85.52H653.46V85.70H654.46V85.89H655.46V86.08H656.46V86.27H657.46V86.46H658.46V86.65H659.46V86.84H660.46V87.03H661.46V87.22H662.46V87.41H663.46V87.59H664.46V87.78H665.46V87.97H666.46V88.16H667.46V88.35H668.46V88.54H669.46V88.73H670.46V88.92H671.46V89.11H672.46V89.22H673.46V89.34H674.46V89.45H675.46V89.57H676.46V89.68H677.46V89.80H678.46V89.91H679.46V90.05H680.46V90.26H681.46V90.48H682.46V90.69H683.46V90.91H684.46V91.12H685.46V91.34H686.46V91.55H687.46V91.77H688.46V91.98H689.46V92.20H690.46V92.41H691.46V92.63H692.46V92.84H693.46V93.06H694.46V93.27H695.46V93.49H696.46V93.70H697.46V93.92H698.46V94.13H699.46V94.35H700.46V94.55H701.46V94.73H702.46V94.92H703.46V95.10H704.46V95.28H705.46V95.46H706.46V95.64H707.46V95.82H708.46V96.00H709.46V96.18H710.46V96.36H711.46V96.54H712.46V96.72H713.46V96.90H714.46V97.09H715.46V97.27H716.46V97.45H717.46V97.63H718.46V97.81H719.46V97.99H720.46V98.17H721.46V98.32H722.46V98.38H723.46V98.45H724.46V98.51H725.46V98.58H726.46V98.65H727.46V98.71H728.46V98.78H729.46V98.84H730.46V98.91H731.46V98.97H732.46V99.10H733.46V99.28H734.46V99.45H735.46V99.63H736.46V99.81H737.46V99.99H738.46V100.16H739.46V100.34H740.46V100.52H741.46V100.70H742.46V100.87H743.46V101.05H744.46V101.22H745.46V101.36H746.46V101.49H747.46V101.62H748.46V101.76H749.46V101.89H750.46V102.02H751.46V102.16H752.46V102.29H753.46V102.43H754.46V102.56H755.46V102.69H756.46V102.83H757.46V102.96H758.46V103.09H759.46V103.23H760.46V103.36H761.46V103.50H762.46V103.63H763.46V103.76H764.46V103.90H765.46V104.01H766.46V104.07H767.46V104.12H768.46V104.17H769.46V104.22H770.46V104.28H771.46V104.33H772.46V104.38H773.46V104.44H774.46V104.49H775.46V104.54H776.46V104.59H777.46V104.65H778.46V104.70H779.46V104.75H780.46V104.81H781.46V104.86H782.46V104.91H783.46V104.96H784.46V105.08H785.46V105.31H786.46V105.55H787.46V105.79H788.46V106.03H789.46V106.26H790.46V106.50H791.46V106.74H792.46V106.97H793.46V107.21H794.46V107.45H795.46V107.69H796.46V107.92H797.46V108.00H798.46H799.46H800.46H801.46H802.46H803.46H804.46H805.46H806.46H807.46H808.46H809.46H810.46H811.46H812.46H813.46H814.46H815.46H816.46H817.46H818.46H819.46H820.46H821.46H822.46H823.46H824.46H825.46H826.46H827.46H828.46H829.46H830.46H831.46H832.46H833.46H834.46H835.46H836.46H837.46H838.46H839.46H840.46H841.46H841.86" stroke="#D55E00" stroke-width="1.6"/>
</g>
<rect x="569.15" y="435" width="68.6" height="31.6" fill="#fff"/>
<line x1="571.15" x2="587.95" y1="443.45" y2="443.45" stroke="#7a7a7a" stroke-width="1.15" stroke-dasharray="4.5 3.1 9.2 9"/>
<line x1="571.15" x2="587.95" y1="452.15" y2="452.15" stroke="#0369A8" stroke-width="1.9" stroke-dasharray="2.4 5.3 9.1 9"/>
<line x1="571.15" x2="587.95" y1="460.85" y2="460.85" stroke="#D55E00" stroke-width="1.8"/>
<text transform="translate(596.45 446.30) rotate(0.03) scale(1.185 1)" font-size="8.4" font-weight="bold" text-anchor="start" fill="#000">BCS+RT</text>
<text transform="translate(596.45 454.90) rotate(0.03) scale(1.185 1)" font-size="8.4" font-weight="bold" text-anchor="start" fill="#000">Mx-RT</text>
<text transform="translate(596.45 463.50) rotate(0.03) scale(1.185 1)" font-size="8.4" font-weight="bold" text-anchor="start" fill="#000">Mx+RT</text>
<rect x="559.1" y="24.0" width="1.1" height="445.05" fill="#2b2b2b"/>
<line x1="559.10" x2="1031.95" y1="468.5" y2="468.5" stroke="#4d4d4d" stroke-width="1.3"/>
<line x1="557.55" x2="559.95" y1="448.40" y2="448.40" stroke="#333" stroke-width="1"/>
<text transform="translate(556.25 451.90) rotate(0.03) scale(1.185 1)" font-size="9.75" font-weight="bold" text-anchor="end" fill="#000">0.00</text>
<line x1="557.55" x2="559.95" y1="347.38" y2="347.38" stroke="#333" stroke-width="1"/>
<text transform="translate(556.25 350.88) rotate(0.03) scale(1.185 1)" font-size="9.75" font-weight="bold" text-anchor="end" fill="#000">0.25</text>
<line x1="557.55" x2="559.95" y1="246.35" y2="246.35" stroke="#333" stroke-width="1"/>
<text transform="translate(556.25 249.85) rotate(0.03) scale(1.185 1)" font-size="9.75" font-weight="bold" text-anchor="end" fill="#000">0.50</text>
<line x1="557.55" x2="559.95" y1="145.32" y2="145.32" stroke="#333" stroke-width="1"/>
<text transform="translate(556.25 148.82) rotate(0.03) scale(1.185 1)" font-size="9.75" font-weight="bold" text-anchor="end" fill="#000">0.75</text>
<line x1="557.55" x2="559.95" y1="44.30" y2="44.30" stroke="#333" stroke-width="1"/>
<text transform="translate(556.25 47.80) rotate(0.03) scale(1.185 1)" font-size="9.75" font-weight="bold" text-anchor="end" fill="#000">1.00</text>
<line x1="581.05" x2="581.05" y1="468.4" y2="470.59999999999997" stroke="#333" stroke-width="1"/>
<text transform="translate(581.05 478.80) rotate(0.03) scale(1.185 1)" font-size="9.75" font-weight="bold" text-anchor="middle" fill="#000">0</text>
<line x1="652.60" x2="652.60" y1="468.4" y2="470.59999999999997" stroke="#333" stroke-width="1"/>
<text transform="translate(652.60 478.80) rotate(0.03) scale(1.185 1)" font-size="9.75" font-weight="bold" text-anchor="middle" fill="#000">2</text>
<line x1="724.15" x2="724.15" y1="468.4" y2="470.59999999999997" stroke="#333" stroke-width="1"/>
<text transform="translate(724.15 478.80) rotate(0.03) scale(1.185 1)" font-size="9.75" font-weight="bold" text-anchor="middle" fill="#000">4</text>
<line x1="795.70" x2="795.70" y1="468.4" y2="470.59999999999997" stroke="#333" stroke-width="1"/>
<text transform="translate(795.70 478.80) rotate(0.03) scale(1.185 1)" font-size="9.75" font-weight="bold" text-anchor="middle" fill="#000">6</text>
<line x1="867.25" x2="867.25" y1="468.4" y2="470.59999999999997" stroke="#333" stroke-width="1"/>
<text transform="translate(867.25 478.80) rotate(0.03) scale(1.185 1)" font-size="9.75" font-weight="bold" text-anchor="middle" fill="#000">8</text>
<line x1="938.80" x2="938.80" y1="468.4" y2="470.59999999999997" stroke="#333" stroke-width="1"/>
<text transform="translate(938.80 478.80) rotate(0.03) scale(1.185 1)" font-size="9.75" font-weight="bold" text-anchor="middle" fill="#000">10</text>
<line x1="1010.35" x2="1010.35" y1="468.4" y2="470.59999999999997" stroke="#333" stroke-width="1"/>
<text transform="translate(1010.35 478.80) rotate(0.03) scale(1.185 1)" font-size="9.75" font-weight="bold" text-anchor="middle" fill="#000">12</text>
<text transform="translate(559.95 19.10) rotate(0.03) scale(1.2 1)" font-size="9.75" font-weight="bold" text-anchor="start" fill="#000">Breast cancer-specific survival (BCSS)</text>
<text transform="translate(796.05 489.60) rotate(0.03) scale(1.185 1)" font-size="9.75" font-weight="bold" text-anchor="middle" fill="#000">Time since diagnosis of BC (years)</text>
<text transform="translate(528.95 246.40) scale(1.185 1) rotate(-90)" font-size="9.75" font-weight="bold" text-anchor="middle" fill="#000">Survival (proportion)</text>
<text transform="translate(974.55 431.60) rotate(0.03) scale(1.185 1)" font-size="8.6" font-weight="normal" text-anchor="start" fill="#000">p &lt; 0.0001</text>
<text transform="translate(560.45 505.00) rotate(0.03) scale(1.185 1)" font-size="9.75" font-weight="bold" text-anchor="start" fill="#000">Number at risk</text>
<line x1="581.05" x2="581.05" y1="510" y2="610.5" stroke="#ebebeb" stroke-width="1"/>
<line x1="759.92" x2="759.92" y1="510" y2="610.5" stroke="#ebebeb" stroke-width="1"/>
<line x1="938.80" x2="938.80" y1="510" y2="610.5" stroke="#ebebeb" stroke-width="1"/>
<line x1="559.95" x2="1031.95" y1="528.9" y2="528.9" stroke="#ebebeb" stroke-width="1"/>
<rect x="545.75" y="526.70" width="10.1" height="4.4" fill="#999999"/>
<text transform="translate(581.05 533.50) rotate(0.03) scale(1.185 1)" font-size="11.9" font-weight="normal" text-anchor="middle" fill="#000">29367</text>
<text transform="translate(759.92 533.50) rotate(0.03) scale(1.185 1)" font-size="11.9" font-weight="normal" text-anchor="middle" fill="#000">19449</text>
<text transform="translate(938.80 533.50) rotate(0.03) scale(1.185 1)" font-size="11.9" font-weight="normal" text-anchor="middle" fill="#000">3695</text>
<line x1="559.95" x2="1031.95" y1="560.5" y2="560.5" stroke="#ebebeb" stroke-width="1"/>
<rect x="545.75" y="558.30" width="10.1" height="4.4" fill="#0072B2"/>
<text transform="translate(581.05 565.10) rotate(0.03) scale(1.185 1)" font-size="11.9" font-weight="normal" text-anchor="middle" fill="#000">12413</text>
<text transform="translate(759.92 565.10) rotate(0.03) scale(1.185 1)" font-size="11.9" font-weight="normal" text-anchor="middle" fill="#000">7982</text>
<text transform="translate(938.80 565.10) rotate(0.03) scale(1.185 1)" font-size="11.9" font-weight="normal" text-anchor="middle" fill="#000">1528</text>
<line x1="559.95" x2="1031.95" y1="592.2" y2="592.2" stroke="#ebebeb" stroke-width="1"/>
<rect x="545.75" y="590.00" width="10.1" height="4.4" fill="#D55E00"/>
<text transform="translate(581.05 596.80) rotate(0.03) scale(1.185 1)" font-size="11.9" font-weight="normal" text-anchor="middle" fill="#000">7206</text>
<text transform="translate(759.92 596.80) rotate(0.03) scale(1.185 1)" font-size="11.9" font-weight="normal" text-anchor="middle" fill="#000">4481</text>
<text transform="translate(938.80 596.80) rotate(0.03) scale(1.185 1)" font-size="11.9" font-weight="normal" text-anchor="middle" fill="#000">811</text>
</svg>
</body>
</html>
